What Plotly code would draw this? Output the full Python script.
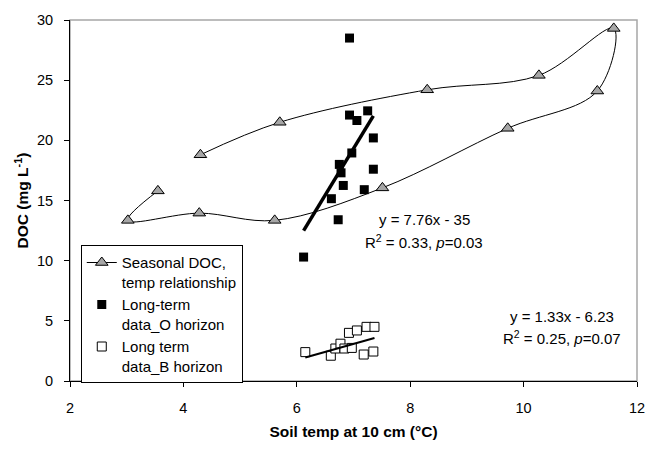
import plotly.graph_objects as go

# ---- data ----
seasonal_temp = [3.55, 3.02, 4.28, 5.61, 7.51, 9.72, 11.30, 11.59, 10.27, 8.30, 5.70, 4.30]
seasonal_doc = [15.8, 13.35, 13.95, 13.35, 16.05, 21.0, 24.1, 29.3, 25.4, 24.2, 21.5, 18.8]

o_temp = [6.93, 6.93, 7.06, 7.25, 7.35, 6.97, 6.75, 6.78, 6.82, 7.35, 7.19, 6.61, 6.73, 6.12]
o_doc = [28.5, 22.1, 21.65, 22.45, 20.2, 18.95, 18.0, 17.3, 16.25, 17.6, 15.9, 15.15, 13.4, 10.3]

b_temp = [6.15, 6.60, 6.68, 6.77, 6.84, 6.97, 6.92, 7.06, 7.23, 7.37, 7.18, 7.35]
b_doc = [2.4, 2.1, 2.7, 3.1, 2.7, 2.75, 4.0, 4.2, 4.5, 4.5, 2.2, 2.45]

o_slope, o_intercept = 7.76, -35.0
b_slope, b_intercept = 1.33, -6.23

x_ticks = [2, 4, 6, 8, 10, 12]
y_ticks = [0, 5, 10, 15, 20, 25, 30]

FONT = "Arial, Liberation Sans, sans-serif"
FS = 14.5
FS_LEG = 15
FS_ANN = 15
FS_TITLE = 15.5

def fit_line(xs, slope, intercept):
    x0, x1 = min(xs), max(xs)
    return [x0, x1], [slope * x0 + intercept, slope * x1 + intercept]

fig = go.Figure()

fig.add_trace(go.Scatter(
    x=seasonal_temp, y=seasonal_doc, mode="lines+markers",
    name="Seasonal DOC,<br>temp relationship", legendgroup="a",
    line=dict(color="black", width=1, shape="spline", smoothing=1.0),
    marker=dict(symbol="triangle-up", size=11, color="#a6a6a6",
                line=dict(color="black", width=1)),
))

fig.add_trace(go.Scatter(
    x=o_temp, y=o_doc, mode="markers",
    name="Long-term<br>data_O horizon", legendgroup="b",
    marker=dict(symbol="square", size=9, color="black",
                line=dict(color="black", width=0)),
))

fig.add_trace(go.Scatter(
    x=b_temp, y=b_doc, mode="markers",
    name="Long term<br>data_B horizon", legendgroup="c",
    marker=dict(symbol="square", size=9, color="white",
                line=dict(color="black", width=1)),
))

ox, oy = fit_line(o_temp, o_slope, o_intercept)
fig.add_trace(go.Scatter(x=ox, y=oy, mode="lines", showlegend=False,
                         line=dict(color="black", width=3.5)))
bx, by = fit_line(b_temp, b_slope, b_intercept)
fig.add_trace(go.Scatter(x=bx, y=by, mode="lines", showlegend=False,
                         line=dict(color="black", width=2)))

# frame (top/right borders in gray)
fig.add_shape(type="rect", xref="paper", yref="paper", x0=0, y0=0, x1=1, y1=1,
              line=dict(color="#a6a6a6", width=1.5), layer="below")

annos = [
    (8.25, 13.4, "y = 7.76x - 35"),
    (8.25, 11.6, "R<sup>2</sup> = 0.33, <i>p</i>=0.03"),
    (10.68, 5.4, "y = 1.33x - 6.23"),
    (10.68, 3.65, "R<sup>2</sup> = 0.25, <i>p</i>=0.07"),
]
for ax_, ay_, txt in annos:
    fig.add_annotation(x=ax_, y=ay_, text=txt, showarrow=False,
                       xanchor="center", yanchor="middle",
                       font=dict(family=FONT, size=FS_ANN, color="black"))

fig.update_layout(
    width=657, height=449,
    margin=dict(l=70, r=17, t=16, b=60),
    paper_bgcolor="white", plot_bgcolor="white",
    font=dict(family=FONT, size=FS, color="black"),
    showlegend=True,
    legend=dict(x=0.019, y=0.376, xanchor="left", yanchor="top",
                bordercolor="black", borderwidth=1, bgcolor="white",
                font=dict(family=FONT, size=FS_LEG, color="black"),
                itemwidth=30, tracegroupgap=0, valign="top"),
    xaxis=dict(range=[2, 12], tickvals=x_ticks, showline=True, linecolor="black",
               linewidth=1, ticks="outside", ticklen=5, tickcolor="black",
               showgrid=False, zeroline=False, ticklabelstandoff=9,
               ticklabeloverflow="allow",
               tickfont=dict(family=FONT, size=FS, color="black"),
               title=dict(text="<b>Soil temp at 10 cm (°C)</b>", standoff=10,
                          font=dict(family=FONT, size=FS_TITLE, color="black"))),
    yaxis=dict(range=[0, 30], tickvals=y_ticks, showline=True, linecolor="black",
               linewidth=1, ticks="outside", ticklen=5, tickcolor="black",
               showgrid=False, zeroline=False, ticklabelstandoff=8,
               ticklabeloverflow="allow",
               tickfont=dict(family=FONT, size=FS, color="black"),
               title=dict(text="<b>DOC (mg L<sup>-1</sup>)</b>", standoff=4,
                          font=dict(family=FONT, size=FS_TITLE, color="black"))),
)

fig.write_html(
    "out.html",
    config={"displayModeBar": False},
    post_script="document.body.style.margin='0';document.body.style.padding='0';"
                "document.documentElement.style.overflow='hidden';",
)
